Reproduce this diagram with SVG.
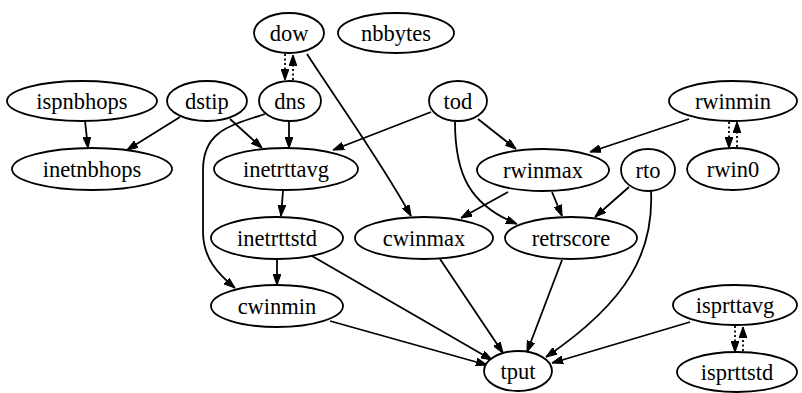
<svg xmlns="http://www.w3.org/2000/svg" width="802" height="393" viewBox="0 0 802 393">
<style>
.n ellipse{fill:#fff;stroke:#000;stroke-width:1.8}
.n text{font-family:"Liberation Serif","Times New Roman",serif;font-size:22.5px;text-anchor:middle;fill:#000}
.e path{fill:none;stroke:#000;stroke-width:1.8;marker-end:url(#a)}
.e path.d{stroke-dasharray:2,2.5}
</style>
<defs>
<marker id="a" markerUnits="userSpaceOnUse" markerWidth="11" markerHeight="8" refX="10" refY="3.5" orient="auto" viewBox="0 0 10 7">
<path d="M0,0 L10,3.5 L0,7 z" fill="#000" stroke="#000" stroke-width="1"/>
</marker>
</defs>
<rect width="802" height="393" fill="#fff"/>
<g class="e" id="edges">
<path class="d" d="M285,54 L285,80"/>
<path class="d" d="M293,80 L293,55"/>
<path d="M307,54 C340,105 380,160 411,216"/>
<path d="M85,121 L88,148"/>
<path d="M180,117 L127,150"/>
<path d="M230,119 L262,148"/>
<path d="M289,121 L289,148"/>
<path d="M265,114 C228,126 203,132 203,170 L203,232 C203,258 218,274 235,288"/>
<path d="M431,112 L333,150"/>
<path d="M478,119 L516,149"/>
<path d="M455,122 C455,175 470,205 517,224"/>
<path d="M689,119 L590,152"/>
<path class="d" d="M729,122 L729,148"/>
<path class="d" d="M737,147 L737,122"/>
<path d="M508,192 L461,218"/>
<path d="M552,192 L562,216"/>
<path d="M629,187 L595,217"/>
<path d="M651,190 C654,250 630,300 546,357"/>
<path d="M562,260 L527,352"/>
<path d="M440,259 L503,353"/>
<path d="M312,256 L492,360"/>
<path d="M283,191 L281,216"/>
<path d="M277,259 L277,285"/>
<path d="M330,321 L487,365"/>
<path d="M690,322 L552,363"/>
<path class="d" d="M735,326 L735,352"/>
<path class="d" d="M743,351 L743,327"/>
</g>
<g class="n" id="dow"><ellipse cx="289" cy="33" rx="35" ry="20"/><text x="289" y="41">dow</text></g>
<g class="n" id="nbbytes"><ellipse cx="396" cy="33" rx="58" ry="20"/><text x="396" y="41">nbbytes</text></g>
<g class="n" id="ispnbhops"><ellipse cx="82" cy="101" rx="75" ry="20"/><text x="82" y="109">ispnbhops</text></g>
<g class="n" id="dstip"><ellipse cx="207" cy="101" rx="40" ry="20"/><text x="207" y="109">dstip</text></g>
<g class="n" id="dns"><ellipse cx="290" cy="101" rx="31" ry="20"/><text x="290" y="109">dns</text></g>
<g class="n" id="tod"><ellipse cx="458" cy="101" rx="29" ry="20"/><text x="458" y="109">tod</text></g>
<g class="n" id="rwinmin"><ellipse cx="733" cy="101" rx="64" ry="20"/><text x="733" y="109">rwinmin</text></g>
<g class="n" id="inetnbhops"><ellipse cx="92" cy="169" rx="80" ry="21"/><text x="92" y="177">inetnbhops</text></g>
<g class="n" id="inetrttavg"><ellipse cx="286" cy="169" rx="72" ry="21"/><text x="286" y="177">inetrttavg</text></g>
<g class="n" id="rwinmax"><ellipse cx="543" cy="170" rx="66" ry="21"/><text x="543" y="178">rwinmax</text></g>
<g class="n" id="rto"><ellipse cx="648" cy="170" rx="27" ry="21"/><text x="648" y="178">rto</text></g>
<g class="n" id="rwin0"><ellipse cx="733" cy="169" rx="46" ry="21"/><text x="733" y="177">rwin0</text></g>
<g class="n" id="inetrttstd"><ellipse cx="277" cy="238" rx="66" ry="21"/><text x="277" y="246">inetrttstd</text></g>
<g class="n" id="cwinmax"><ellipse cx="424" cy="238" rx="69" ry="21"/><text x="424" y="246">cwinmax</text></g>
<g class="n" id="retrscore"><ellipse cx="571" cy="238" rx="66" ry="21"/><text x="571" y="246">retrscore</text></g>
<g class="n" id="cwinmin"><ellipse cx="277" cy="306" rx="66" ry="21"/><text x="277" y="314">cwinmin</text></g>
<g class="n" id="isprttavg"><ellipse cx="735" cy="305" rx="62" ry="20"/><text x="735" y="313">isprttavg</text></g>
<g class="n" id="tput"><ellipse cx="518" cy="371" rx="34" ry="20"/><text x="518" y="379">tput</text></g>
<g class="n" id="isprttstd"><ellipse cx="737" cy="372" rx="60" ry="20"/><text x="737" y="380">isprttstd</text></g>
</svg>
